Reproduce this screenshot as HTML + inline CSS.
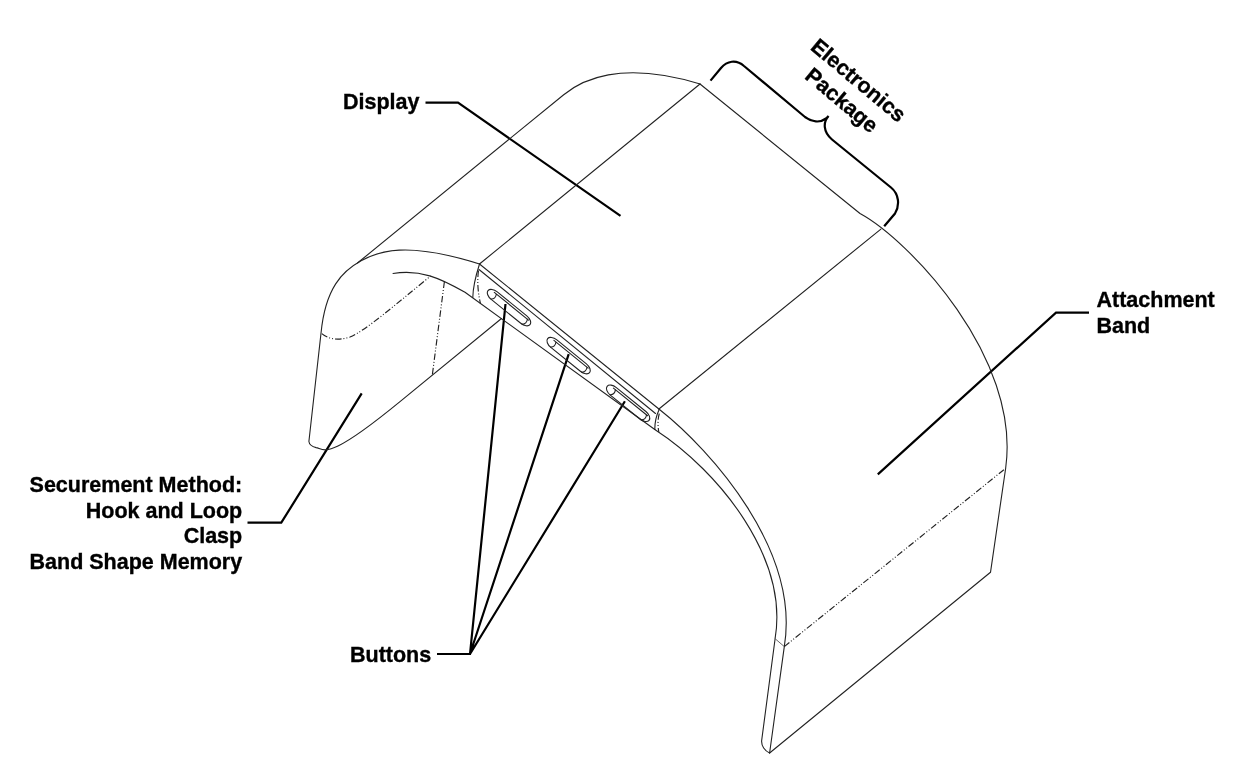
<!DOCTYPE html>
<html><head><meta charset="utf-8"><style>
html,body{margin:0;padding:0;background:#fff;width:1240px;height:772px;overflow:hidden}
svg{display:block;will-change:transform}
text{font-family:"Liberation Sans",sans-serif;font-weight:bold;font-size:21.5px;fill:#000;stroke:#000;stroke-width:0.35}
.t{fill:none;stroke:#222;stroke-width:1.1;stroke-linecap:round;stroke-linejoin:round}
.d{fill:none;stroke:#222;stroke-width:1.15;stroke-dasharray:6.5 2 1 2 1 2}
.k{fill:none;stroke:#000;stroke-width:2.2;stroke-linecap:butt;stroke-linejoin:miter}
</style></head><body>
<svg width="1240" height="772" viewBox="0 0 1240 772">
<rect width="1240" height="772" fill="#fff"/>

<!-- labels -->
<text x="343" y="109">Display</text>
<text x="1096.5" y="307">Attachment</text>
<text x="1096.5" y="332.5">Band</text>
<text x="350" y="661.6">Buttons</text>
<text x="242.2" y="491.7" text-anchor="end">Securement Method:</text>
<text x="242.2" y="517.7" text-anchor="end">Hook and Loop</text>
<text x="242.2" y="543.2" text-anchor="end">Clasp</text>
<text x="242.2" y="569.2" text-anchor="end">Band Shape Memory</text>
<g transform="translate(858.3,80.6) rotate(40)">
<text x="0" y="7" text-anchor="middle">Electronics</text>
<text x="0" y="33" text-anchor="middle">Package</text>
</g>

<!-- leaders -->
<path class="k" d="M425.5 102.7 H458 L620.5 215.8"/>
<path class="k" d="M1089 312.6 H1056 L877.8 474.4"/>
<path class="k" d="M247.5 522.7 H281.3 L361.7 393.4"/>
<path class="k" d="M437 654 H470 L505.5 304 M470 654 L568.7 354.1 M470 654 L624.9 401.3"/>
<path class="k" d="M710.5 80.6 L721 68 C727 61 736 59 744 66 L805 117 C812 122 820 123 826 118.5 L828.6 116 M828.6 116 C823 122 823 132 832 139.5 L891 187.5 C899 194 900 205 895 213.5 L884.2 226.3"/>

<!-- object: left band -->
<path class="t" d="M357.5 263 L563.7 94.7 C581.1 80.5 619.8 59.6 700.1 84"/>
<path class="t" d="M700 84 L479.5 264"/>
<path class="t" d="M700 84 L860 213.5 C908.7 239.9 1021.1 357.3 1005.7 468 L990.5 572.3 L769.6 753"/>
<path class="t" d="M479.5 264 C406.1 240.7 378.1 251.3 361.1 260.8 C342.4 271.1 325.4 287.8 321 333.2 L308.9 441.5 Q309.5 446 316.1 447.6 C325 449.4 326.6 461.7 400 401.6 L501.5 318.5"/>
<path class="t" d="M393 273.5 C420 269 440 278 465 292.3 L654.8 429.5"/>
<path class="d" d="M321.8 333.6 C328 339 338 341 350 337 C365 331 395 305 430.6 276"/>
<path class="d" d="M444.4 281.6 L432.4 374.4"/>

<!-- panel -->
<path class="t" d="M479.5 264 L658.9 409"/>
<path class="t" d="M479 269.5 L655.5 413.5"/>
<path class="t" d="M479.5 264 C476 275 473 286 472.8 297.5"/>
<path class="d" d="M478.5 270.5 C477 282 478 293 480.5 303.7"/>
<path class="t" d="M659.3 409.3 C656.5 415 654.8 423 654.8 429.5"/>
<path class="d" d="M659.3 413.5 C657.7 419 657.7 426 658.8 432"/>
<path class="t" d="M880.9 229.1 L658.9 409"/>

<!-- buttons -->
<g transform="translate(509,307.6) rotate(39)">
<rect class="t" x="-27" y="-4.8" width="54" height="9.6" rx="8" ry="4.8"/>
<path class="t" d="M-21 -2.6 L23 -2.6 M-18.5 -2.6 C-16.5 0 -17 3 -19.5 4.7 M21.5 -2.6 C23.5 0 23 3 20.5 4.7"/>
</g>
<g transform="translate(568.6,355.6) rotate(39)">
<rect class="t" x="-27" y="-4.8" width="54" height="9.6" rx="8" ry="4.8"/>
<path class="t" d="M-21 -2.6 L23 -2.6 M-18.5 -2.6 C-16.5 0 -17 3 -19.5 4.7 M21.5 -2.6 C23.5 0 23 3 20.5 4.7"/>
</g>
<g transform="translate(628.1,403.3) rotate(39)">
<rect class="t" x="-27" y="-4.8" width="54" height="9.6" rx="8" ry="4.8"/>
<path class="t" d="M-21 -2.6 L23 -2.6 M-18.5 -2.6 C-16.5 0 -17 3 -19.5 4.7 M21.5 -2.6 C23.5 0 23 3 20.5 4.7"/>
</g>
<!-- right band -->
<path class="t" d="M658.9 409 C712.2 451 800.2 550.9 784.3 646.6 L769.6 753"/>
<path class="t" d="M654.8 429.5 C719.9 471.8 788.6 558.4 775.1 638.7 L761.7 740.2 C761 746 765 751 769.6 753"/>
<path class="t" style="stroke:#555;stroke-width:0.9" d="M775.1 638.7 L784.3 646.6"/>
<path class="d" d="M784.3 646.6 L1004 469.6"/>
</svg>
</body></html>
